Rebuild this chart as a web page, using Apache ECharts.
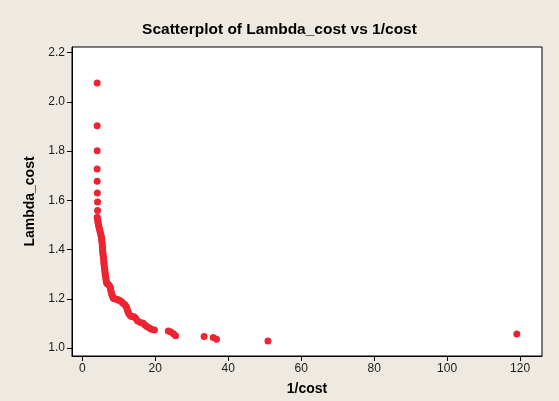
<!DOCTYPE html>
<html>
<head>
<meta charset="utf-8">
<script src="https://cdn.jsdelivr.net/npm/echarts@6/dist/echarts.min.js"></script>
<style>
html,body{margin:0;padding:0;background:#EFEAE1;}
#c{width:559px;height:401px;}
</style>
</head>
<body>
<div id="c"></div>
<script>
var invCost = [4.1,4.1,4.1,4.1,4.1,4.15,4.2,4.2,
4.1,4.2,4.3,4.35,4.45,4.6,4.7,4.85,5.0,5.1,5.25,5.3,5.35,5.45,5.5,5.5,5.55,5.6,5.65,5.7,5.8,5.85,5.9,5.95,6.0,6.05,6.1,6.2,6.25,6.3,6.4,6.5,6.55,6.65,6.8,7.2,7.5,7.7,7.8,7.9,8.05,8.2,8.4,8.6,9.0,9.5,9.9,10.4,10.8,11.2,11.7,12.1,12.3,12.5,12.7,13.1,13.5,14.2,14.7,15.2,16.0,16.7,17.2,17.7,18.4,19.0,19.8,23.6,24.3,25.0,25.6,
33.4,35.9,36.8,50.9,119.1];
var lambdaCost = [2.077,1.903,1.802,1.727,1.678,1.630,1.593,1.559,
1.532,1.524,1.515,1.508,1.500,1.492,1.485,1.476,1.468,1.460,1.452,1.444,1.436,1.428,1.420,1.412,1.404,1.396,1.388,1.380,1.372,1.364,1.356,1.348,1.340,1.332,1.324,1.316,1.308,1.300,1.292,1.284,1.276,1.268,1.262,1.258,1.252,1.246,1.238,1.230,1.222,1.215,1.208,1.202,1.200,1.198,1.195,1.192,1.188,1.182,1.176,1.168,1.160,1.150,1.142,1.134,1.128,1.127,1.120,1.110,1.104,1.101,1.094,1.088,1.082,1.077,1.074,1.070,1.065,1.058,1.050,
1.047,1.043,1.036,1.029,1.057];
var xTicks = [0,20,40,60,80,100,120];
var yTicks = [1.0,1.2,1.4,1.6,1.8,2.0,2.2];

var pts = invCost.map(function(v,i){return [v, lambdaCost[i]];});
var chart = echarts.init(document.getElementById('c'));
var lblFont = {color:'#1a1a1a', fontSize:12, fontFamily:'Liberation Sans'};
chart.setOption({
  backgroundColor:'#EFEAE1',
  animation:false,
  title:{text:'Scatterplot of Lambda_cost vs 1/cost', left:'center', top:17,
    textStyle:{fontFamily:'Liberation Sans', fontWeight:'bold', fontSize:15.5, color:'#000'}},
  grid:{left:72, right:17, top:47, bottom:41, show:true, backgroundColor:'#fff', borderColor:'#000', borderWidth:1},
  xAxis:{type:'value', min:-2.8, max:126,
    name:'1/cost', nameLocation:'middle', nameGap:26,
    nameTextStyle:{fontFamily:'Liberation Sans', fontWeight:'bold', fontSize:14, color:'#000'},
    axisLine:{show:true, onZero:false, lineStyle:{color:'#000'}},
    axisTick:{show:true, inside:false, length:5, customValues:xTicks, lineStyle:{color:'#000'}},
    axisLabel:Object.assign({customValues:xTicks, margin:7}, lblFont),
    splitLine:{show:false}},
  yAxis:{type:'value', min:0.968, max:2.223,
    name:'Lambda_cost', nameLocation:'middle', nameGap:35, nameRotate:90,
    nameTextStyle:{fontFamily:'Liberation Sans', fontWeight:'bold', fontSize:14, color:'#000'},
    axisLine:{show:true, onZero:false, lineStyle:{color:'#000'}},
    axisTick:{show:true, inside:false, length:5, customValues:yTicks, lineStyle:{color:'#000'}},
    axisLabel:Object.assign({customValues:yTicks, margin:7, formatter:function(v){return v.toFixed(1);}}, lblFont),
    splitLine:{show:false}},
  series:[{type:'scatter', data:pts, symbolSize:7, itemStyle:{color:'#EC2532', opacity:1}}]
});
</script>
</body>
</html>
